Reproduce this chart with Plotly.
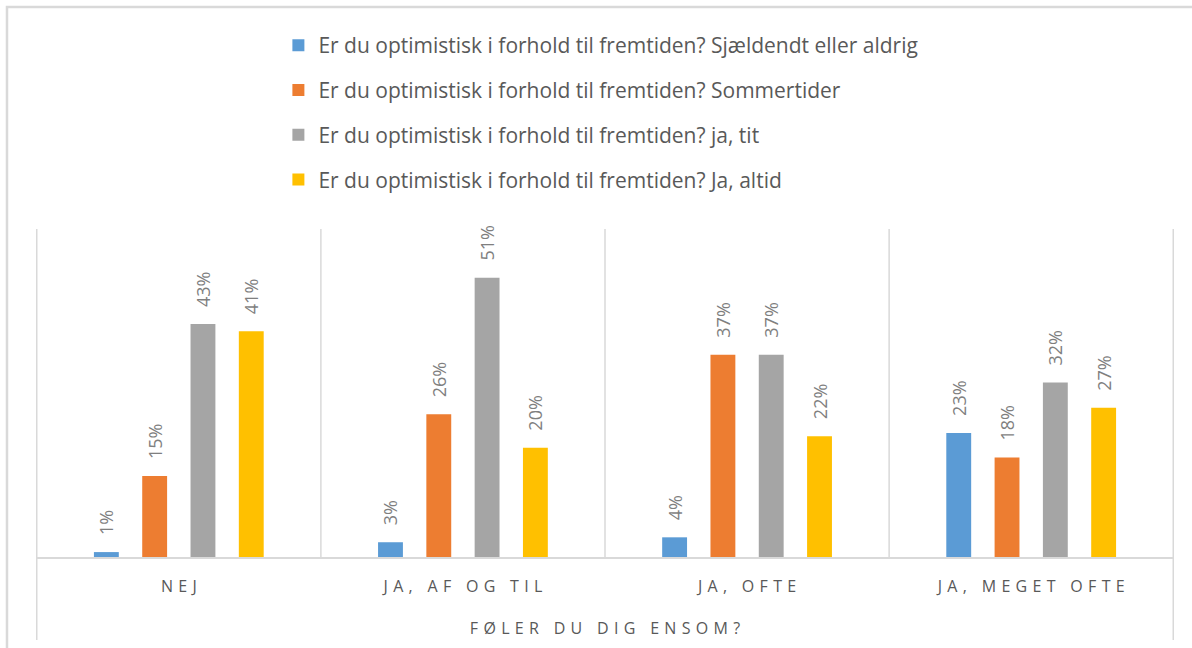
import plotly.graph_objects as go

# categories on the x axis
categories = ["NEJ", "JA, AF OG TIL", "JA, OFTE", "JA, MEGET OFTE"]

# series names and values (share of respondents)
series_names = [
    "Er du optimistisk i forhold til fremtiden? Sjældendt eller aldrig",
    "Er du optimistisk i forhold til fremtiden? Sommertider",
    "Er du optimistisk i forhold til fremtiden? ja, tit",
    "Er du optimistisk i forhold til fremtiden? Ja, altid",
]
sjaeldent = [0.009, 0.027, 0.036, 0.227]
sommertider = [0.148, 0.261, 0.370, 0.182]
ja_tit = [0.426, 0.511, 0.370, 0.319]
ja_altid = [0.413, 0.200, 0.221, 0.273]

colors = ["#5B9BD5", "#ED7D31", "#A5A5A5", "#FFC000"]
FONT = "Open Sans"


def spaced(s):
    # imitate Excel's letter spacing on the category axis
    words = ["\u2009\u2009".join(w) for w in s.split(" ")]
    return "\u2009\u2009 \u2009\u2009".join(words)


fig = go.Figure()
for name, vals, col in zip(series_names, [sjaeldent, sommertider, ja_tit, ja_altid], colors):
    fig.add_trace(go.Bar(
        x=[spaced(c) for c in categories],
        y=vals,
        name=name,
        legendgroup=name,
        marker=dict(color=col, line=dict(width=0)),
        texttemplate="\u00a0\u00a0\u00a0%{y:.0%}",
        textposition="outside",
        textangle=-90,
        constraintext="none",
        textfont=dict(family=FONT, size=18, color="#7F7F7F"),
        cliponaxis=False,
    ))

# vertical separators between categories
shapes = []
n = len(categories)
for i in range(n + 1):
    outer = i in (0, n)
    shapes.append(dict(
        type="line", xref="x", yref="paper",
        x0=i - 0.5, x1=i - 0.5,
        y0=-0.253 if outer else 0, y1=1,
        line=dict(color="#D9D9D9", width=1.5),
    ))
# outer chart border (only top and left edge fall inside the picture)
shapes.append(dict(type="rect", xref="paper", yref="paper",
                   x0=-0.0255, x1=1.2, y0=-0.6, y1=1.677,
                   line=dict(color="#D9D9D9", width=2.5)))

fig.update_layout(
    width=1192, height=648,
    margin=dict(l=36, r=18, t=229, b=91),
    paper_bgcolor="white", plot_bgcolor="white",
    font=dict(family=FONT, color="#595959"),
    barmode="group", bargap=0.32, bargroupgap=0.485,
    shapes=shapes,
    showlegend=True,
    legend=dict(
        x=0.213, xanchor="left", y=1.622, yanchor="top",
        font=dict(family=FONT, size=21, color="#595959"),
        tracegroupgap=14.5, traceorder="grouped",
    ),
    xaxis=dict(
        showline=True, linecolor="#D9D9D9", linewidth=1.5,
        showgrid=False, ticks="", ticklabelstandoff=14,
        tickfont=dict(family=FONT, size=16, color="#595959"),
        title=dict(text=spaced("FØLER DU DIG ENSOM?"), standoff=27,
                   font=dict(family=FONT, size=16, color="#595959")),
    ),
    yaxis=dict(range=[0, 0.6], visible=False),
)

fig.write_html("out.html", config={"displayModeBar": False},
               post_script="document.body.style.margin='0';")
